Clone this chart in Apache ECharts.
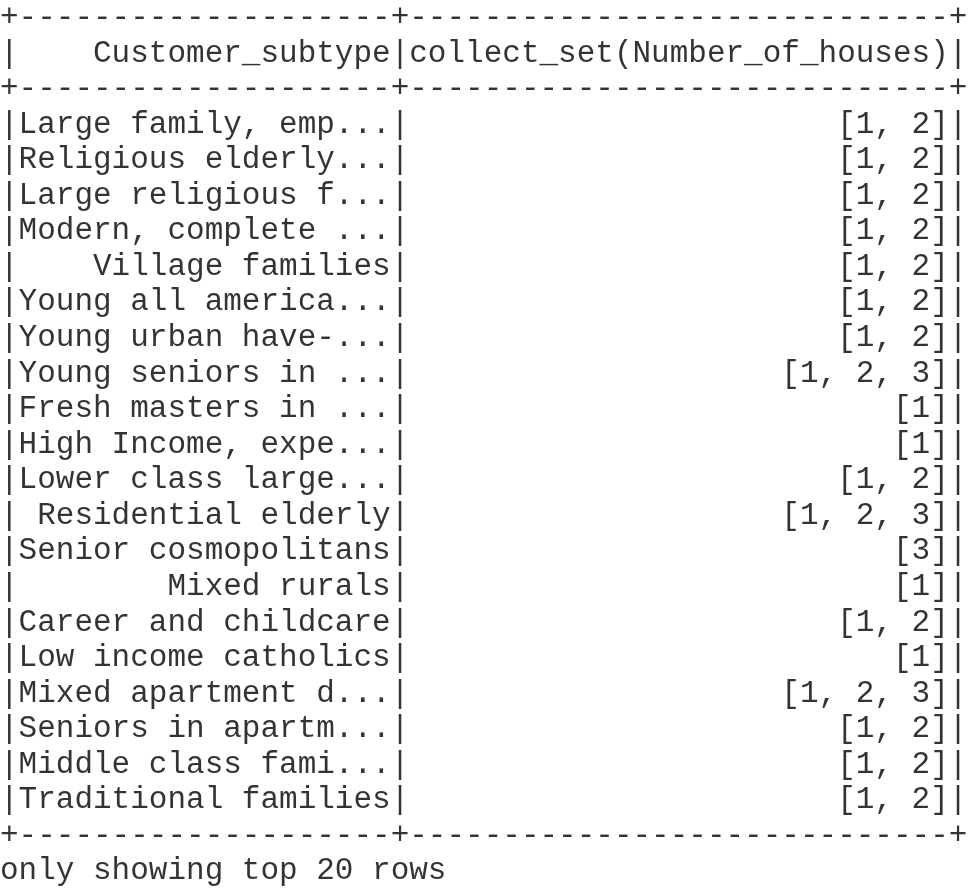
<!DOCTYPE html>
<html>
<head>
<meta charset="utf-8">
<script src="https://cdn.jsdelivr.net/npm/echarts@6/dist/echarts.min.js"></script>
<style>
  html, body { margin: 0; padding: 0; background: #fff; }
  #main { width: 969px; height: 891px; }
</style>
</head>
<body>
<div id="main"></div>
<script>
// column headers
var headers = ["Customer_subtype", "collect_set(Number_of_houses)"];

// first column, as shown (already truncated by show())
var subtypes = [
    "Large family, emp...", "Religious elderly...", "Large religious f...",
    "Modern, complete ...", "Village families", "Young all america...",
    "Young urban have-...", "Young seniors in ...", "Fresh masters in ...",
    "High Income, expe...", "Lower class large...", "Residential elderly",
    "Senior cosmopolitans", "Mixed rurals", "Career and childcare",
    "Low income catholics", "Mixed apartment d...", "Seniors in apartm...",
    "Middle class fami...", "Traditional families"
];

// second column
var houses = [
    [1, 2], [1, 2], [1, 2], [1, 2], [1, 2], [1, 2], [1, 2], [1, 2, 3],
    [1], [1], [1, 2], [1, 2, 3], [3], [1], [1, 2], [1], [1, 2, 3],
    [1, 2], [1, 2], [1, 2]
];

var footer = "only showing top 20 rows";

// padding helpers
function padLeft(s, n) {
    while (s.length < n) s = " " + s;
    return s;
}
function dashes(n) {
    var s = "";
    for (var i = 0; i < n; i++) s += "-";
    return s;
}

var w1 = 20, w2 = headers[1].length;
var border = "+" + dashes(w1) + "+" + dashes(w2) + "+";

var lines = [];
lines.push(border);
lines.push("|" + padLeft(headers[0], w1) + "|" + padLeft(headers[1], w2) + "|");
lines.push(border);
for (var i = 0; i < subtypes.length; i++) {
    var set = "[" + houses[i].join(", ") + "]";
    lines.push("|" + padLeft(subtypes[i], w1) + "|" + padLeft(set, w2) + "|");
}
lines.push(border);
lines.push(footer);

var rowIdx = lines.map(function (l, i) { return String(i); });
var points = lines.map(function (l, i) { return [0, String(i)]; });

var myChart = echarts.init(document.getElementById('main'));

var option = {
    backgroundColor: '#fff',
    animation: false,
    grid: { left: 0, right: 0, top: -11, height: lines.length * 36 },
    xAxis: { type: 'value', min: 0, max: 1, show: false },
    yAxis: { type: 'category', data: rowIdx, inverse: true, show: false },
    series: [{
        type: 'scatter',
        symbolSize: 1,
        itemStyle: { color: 'rgba(0,0,0,0)' },
        data: points,
        label: {
            show: true,
            position: 'right',
            distance: -0.5,
            fontFamily: 'Liberation Mono',
            fontSize: 31,
            color: '#000',
            formatter: function (p) { return lines[p.dataIndex]; }
        }
    }]
};

myChart.setOption(option);
</script>
</body>
</html>
